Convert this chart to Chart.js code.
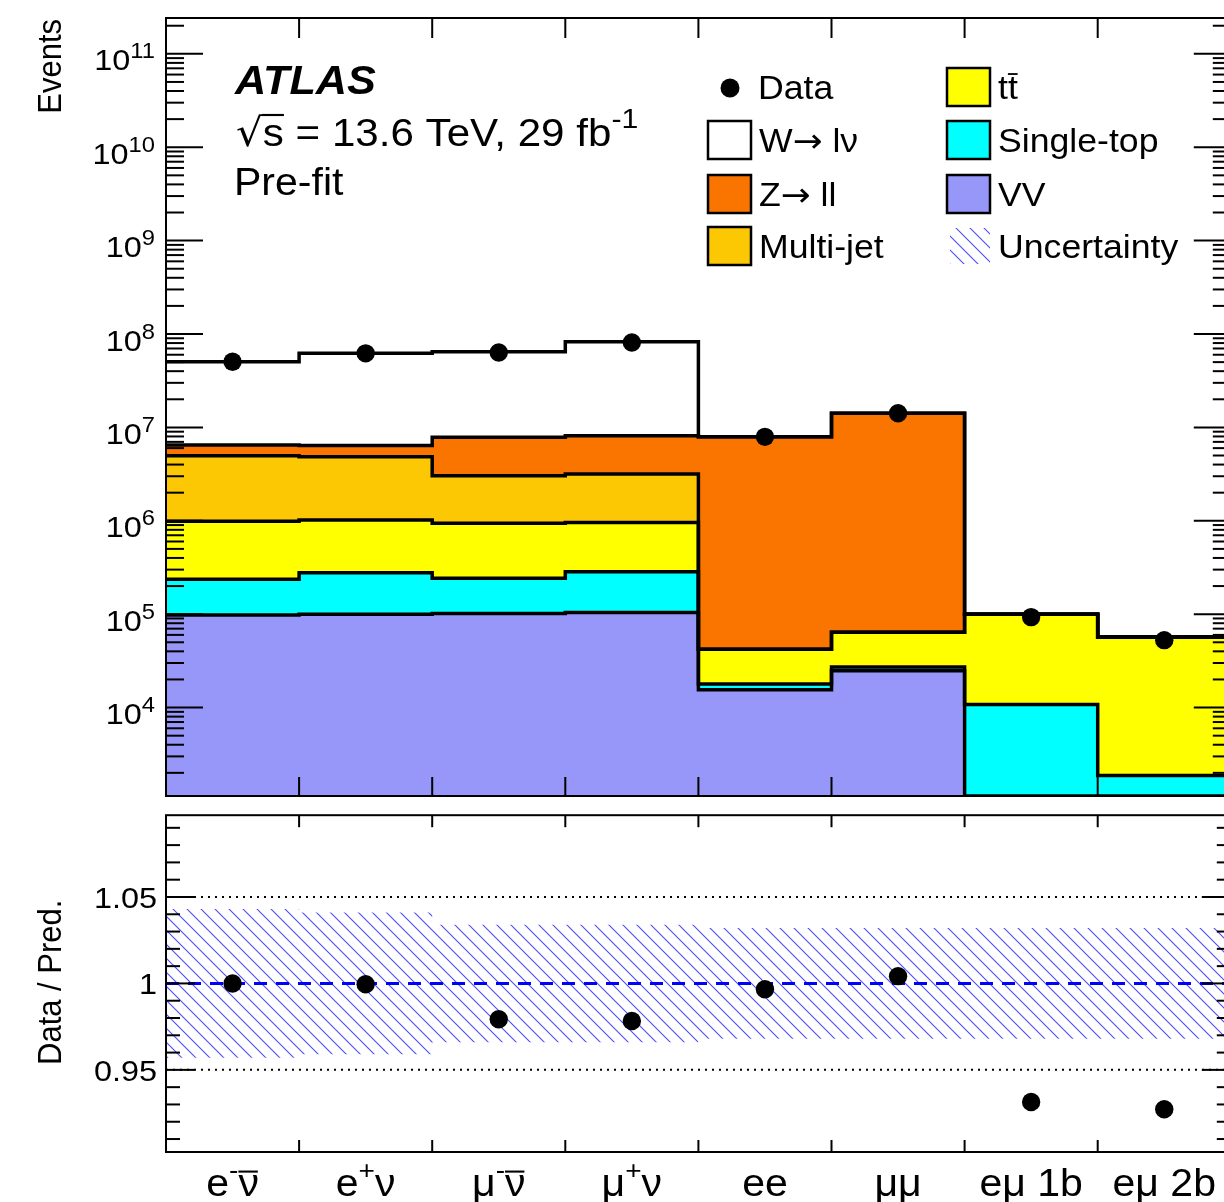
<!DOCTYPE html>
<html>
<head>
<meta charset="utf-8">
<title>ATLAS pre-fit yields</title>
<script src="https://cdn.jsdelivr.net/npm/chart.js@4.4.1/dist/chart.umd.min.js"></script>
<style>
  html, body { margin: 0; padding: 0; background: #fff; }
  body { width: 1224px; height: 1202px; overflow: hidden; position: relative; }
  canvas { position: absolute; left: 0; }
  #mainChart { top: 0; }
  #ratioChart { top: 806px; }
</style>
</head>
<body>
<canvas id="mainChart" width="1240" height="806"></canvas>
<canvas id="ratioChart" width="1240" height="396"></canvas>
<script>
'use strict';

// regions (ROOT-like markup: ^{..} superscript, #bar{..} overline, #rightarrow)
const categories = ['e^{-}#bar{ν}', 'e^{+}ν', 'μ^{-}#bar{ν}', 'μ^{+}ν', 'ee', 'μμ', 'eμ 1b', 'eμ 2b'];

// expected events per sample
const vvYield        = [9.8e4, 1.0e5, 1.02e5, 1.04e5, 1.55e4, 2.48e4, 0, 0];
const singleTopYield = [1.39e5, 1.78e5, 1.40e5, 1.81e5, 2.4e3, 2.4e3, 1.08e4, 1.87e3];
const ttbarYield     = [7.53e5, 7.4e5, 6.98e5, 6.75e5, 2.41e4, 3.68e4, 8.9e4, 5.5e4];
const multijetYield  = [3.99e6, 3.83e6, 2.10e6, 2.21e6, 0, 0, 0, 0];
const zllYield       = [1.50e6, 1.55e6, 4.79e6, 4.98e6, 7.91e6, 1.41e7, 0, 0];
const wlnuYield      = [4.40e7, 5.57e7, 5.68e7, 7.47e7, 0, 0, 0, 0];
const dataEvents     = [5.05e7, 6.21e7, 6.33e7, 8.10e7, 7.92e6, 1.42e7, 9.3e4, 5.27e4];

// lower panel
const dataOverPred   = [1.000, 0.9995, 0.9793, 0.9783, 0.9966, 1.0042, 0.9314, 0.9272];
const relUncertainty = [0.043, 0.041, 0.034, 0.034, 0.032, 0.032, 0.032, 0.032];

// axes
const eventsTickValues = [1e4, 1e5, 1e6, 1e7, 1e8, 1e9, 1e10, 1e11];
const eventsTickLabels = ['10^{4}', '10^{5}', '10^{6}', '10^{7}', '10^{8}', '10^{9}', '10^{10}', '10^{11}'];
const ratioTickValues = [0.95, 1, 1.05];
const ratioTickLabels = ['0.95', '1', '1.05'];

const EVENTS_MIN = 1130;
const EVENTS_MAX = 2.42e11;
const RATIO_MIN = 0.9025;
const RATIO_MAX = 1.0973;

const FONT = '"Liberation Sans", Arial, Helvetica, sans-serif';
const SYMBOL_FONT = '"DejaVu Sans", sans-serif';
const STRETCH = 1.08;
const nBins = categories.length;

const stackSamples = [
    { label: 'VV', values: vvYield, color: '#9797fa' },
    { label: 'Single-top', values: singleTopYield, color: '#00ffff' },
    { label: 't#bar{t}', values: ttbarYield, color: '#ffff00' },
    { label: 'Multi-jet', values: multijetYield, color: '#fcc804' },
    { label: 'Z#rightarrow ll', values: zllYield, color: '#fa7500' },
    { label: 'W#rightarrow lν', values: wlnuYield, color: '#ffffff' }
];

// histogram outline: one point per left bin edge, last value repeated at the right edge
function stepPoints(values, floor) {
    const pts = values.map((v, i) => ({ x: i, y: Math.max(v, floor) }));
    pts.push({ x: values.length, y: pts[pts.length - 1].y });
    return pts;
}

function makeHatch(ctx) {
    const c = document.createElement('canvas');
    c.width = 14;
    c.height = 14;
    const g = c.getContext('2d');
    g.strokeStyle = 'rgba(45,45,245,0.85)';
    g.lineWidth = 1.1;
    g.beginPath();
    g.moveTo(-2, -2); g.lineTo(16, 16);
    g.moveTo(-2, 12); g.lineTo(2, 16);
    g.moveTo(12, -2); g.lineTo(16, 2);
    g.stroke();
    return ctx.createPattern(c, 'repeat');
}

function parseRich(str) {
    const re = /\^\{([^}]*)\}|#bar\{([^}]*)\}|#sqrt\{([^}]*)\}|#rightarrow|([^^#]+)/g;
    const parts = [];
    let m;
    while ((m = re.exec(str)) !== null) {
        if (m[0] === '#rightarrow') parts.push({ text: '→', kind: 'sym' });
        else if (m[1] !== undefined) parts.push({ text: m[1], kind: 'sup' });
        else if (m[2] !== undefined) parts.push({ text: m[2], kind: 'bar' });
        else if (m[3] !== undefined) {
            parts.push({ text: '√', kind: 'root' });
            parts.push({ text: m[3], kind: 'rooted' });
        } else parts.push({ text: m[4], kind: 'plain' });
    }
    return parts;
}

function partFont(p, face) {
    if (p.kind === 'sym' || p.kind === 'root') return `normal normal ${p.size}px ${SYMBOL_FONT}`;
    return `${face} ${p.size}px ${FONT}`;
}

function drawRich(ctx, str, x, y, size, opt) {
    opt = opt || {};
    const face = (opt.style || 'normal') + ' ' + (opt.weight || 'normal');
    const parts = parseRich(str);
    let width = 0;
    parts.forEach(p => {
        p.size = p.kind === 'sup' ? Math.round(size * (opt.supScale || 0.68)) : size;
        ctx.font = partFont(p, face);
        const mt = ctx.measureText(p.text);
        p.w = mt.width;
        p.asc = mt.actualBoundingBoxAscent;
        p.l = mt.actualBoundingBoxLeft;
        p.r = mt.actualBoundingBoxRight;
        width += p.w;
    });
    ctx.save();
    ctx.translate(x, y);
    ctx.scale(STRETCH, 1);
    if (opt.rotate) ctx.rotate(opt.rotate);
    ctx.fillStyle = '#000';
    ctx.strokeStyle = '#000';
    ctx.textAlign = 'left';
    ctx.textBaseline = 'alphabetic';
    let cx = opt.align === 'center' ? -width / 2 : opt.align === 'right' ? -width : 0;
    let rootTop = 0;
    parts.forEach(p => {
        ctx.font = partFont(p, face);
        const dy = p.kind === 'sup' ? -size * (opt.raise || 0.42) : 0;
        ctx.fillText(p.text, cx, dy);
        ctx.lineWidth = Math.max(1.5, size * 0.055);
        if (p.kind === 'bar') {
            const by = -p.asc - size * 0.09;
            ctx.beginPath();
            ctx.moveTo(cx - p.l, by);
            ctx.lineTo(cx + p.r, by);
            ctx.stroke();
        }
        if (p.kind === 'root') rootTop = p.asc;
        if (p.kind === 'rooted') {
            ctx.beginPath();
            ctx.moveTo(cx - 1, -rootTop + 1);
            ctx.lineTo(cx + p.w, -rootTop + 1);
            ctx.stroke();
        }
        cx += p.w;
    });
    ctx.restore();
}

function seg(ctx, x1, y1, x2, y2) {
    ctx.beginPath();
    ctx.moveTo(x1, y1);
    ctx.lineTo(x2, y2);
    ctx.stroke();
}

// ---------- upper panel ----------
const mainCanvas = document.getElementById('mainChart');
const mainHatch = makeHatch(mainCanvas.getContext('2d'));

let cumulative = new Array(nBins).fill(0);
const stackDatasets = stackSamples.map((s, k) => {
    cumulative = cumulative.map((c, i) => c + s.values[i]);
    return {
        label: s.label,
        data: stepPoints(cumulative, EVENTS_MIN),
        stepped: true,
        borderColor: '#000',
        borderWidth: 3.5,
        borderJoinStyle: 'miter',
        backgroundColor: s.color,
        fill: k === 0 ? 'start' : '-1',
        pointRadius: 0,
        order: 1
    };
});

const dataDataset = {
    label: 'Data',
    data: dataEvents.map((v, i) => ({ x: i + 0.5, y: v })),
    showLine: false,
    pointRadius: 9.2,
    pointBackgroundColor: '#000',
    pointBorderWidth: 0,
    order: 0
};

const mainDecor = {
    id: 'mainDecor',
    afterDraw(chart) {
        const ctx = chart.ctx;
        const { left, right, top, bottom } = chart.chartArea;
        const xS = chart.scales.x, yS = chart.scales.y;
        ctx.save();
        ctx.strokeStyle = '#000';
        ctx.lineWidth = 2;
        ctx.strokeRect(left, top, right - left, bottom - top);

        // inward ticks, log axis
        for (let p = 3; p <= 11; p++) {
            for (let m = 1; m <= 9; m++) {
                const v = m * Math.pow(10, p);
                if (v < yS.min || v > yS.max) continue;
                const y = yS.getPixelForValue(v);
                const len = m === 1 ? 37 : 18;
                seg(ctx, left, y, left + len, y);
                seg(ctx, right, y, right - len, y);
            }
        }
        for (let i = 1; i < nBins; i++) {
            const x = xS.getPixelForValue(i);
            seg(ctx, x, top, x, top + 20);
            seg(ctx, x, bottom, x, bottom - 19);
        }
        eventsTickValues.forEach((v, i) => {
            const y = yS.getPixelForValue(v);
            drawRich(ctx, eventsTickLabels[i], 155, y + 16.5, 30, { align: 'right', raise: 0.4, supScale: 0.72 });
        });
        drawRich(ctx, 'Events', 61, 19, 31, { align: 'right', rotate: -Math.PI / 2 });

        // labels
        drawRich(ctx, 'ATLAS', 235, 94, 40, { weight: 'bold', style: 'italic' });
        drawRich(ctx, '#sqrt{s} = 13.6 TeV, 29 fb^{-1}', 236, 146, 39, { raise: 0.45, supScale: 0.72 });
        drawRich(ctx, 'Pre-fit', 234, 195, 38);

        // legend
        const rows = [99, 152, 206, 258];
        const byLabel = {};
        stackSamples.forEach(s => { byLabel[s.label] = s; });
        const box = (x, base, color) => {
            ctx.fillStyle = color;
            ctx.fillRect(x, base - 31, 43, 38);
            ctx.lineWidth = 2.5;
            ctx.strokeStyle = '#000';
            ctx.strokeRect(x, base - 31, 43, 38);
        };
        ctx.fillStyle = '#000';
        ctx.beginPath();
        ctx.arc(730, rows[0] - 11, 9.5, 0, Math.PI * 2);
        ctx.fill();
        drawRich(ctx, 'Data', 758, rows[0], 33);
        ['W#rightarrow lν', 'Z#rightarrow ll', 'Multi-jet'].forEach((lab, i) => {
            box(708, rows[i + 1], byLabel[lab].color);
            drawRich(ctx, lab, 759, rows[i + 1], 33);
        });
        ['t#bar{t}', 'Single-top', 'VV'].forEach((lab, i) => {
            box(947, rows[i], byLabel[lab].color);
            drawRich(ctx, lab, 998, rows[i], 33);
        });
        ctx.fillStyle = mainHatch;
        ctx.fillRect(950, rows[3] - 30, 40, 36);
        drawRich(ctx, 'Uncertainty', 998, rows[3], 33);
        ctx.restore();
    }
};

new Chart(mainCanvas, {
    type: 'line',
    data: { datasets: [...stackDatasets, dataDataset] },
    options: {
        responsive: false,
        animation: false,
        events: [],
        layout: { padding: { left: 166, right: 8, top: 18, bottom: 10 } },
        scales: {
            x: { type: 'linear', min: 0, max: nBins, display: false },
            y: { type: 'logarithmic', min: EVENTS_MIN, max: EVENTS_MAX, display: false }
        },
        plugins: {
            legend: { display: false },
            tooltip: { enabled: false },
            filler: { drawTime: 'beforeDatasetsDraw' }
        }
    },
    plugins: [mainDecor]
});

// ---------- ratio panel ----------
const ratioCanvas = document.getElementById('ratioChart');
const ratioHatch = makeHatch(ratioCanvas.getContext('2d'));

const ratioDecor = {
    id: 'ratioDecor',
    beforeDatasetsDraw(chart) {
        const ctx = chart.ctx;
        const { left, right } = chart.chartArea;
        const yS = chart.scales.y;
        ctx.save();
        ctx.strokeStyle = '#000';
        ctx.lineWidth = 2;
        ctx.setLineDash([2, 5]);
        [0.95, 1.05].forEach(v => {
            const y = yS.getPixelForValue(v);
            seg(ctx, left, y, right, y);
        });
        ctx.restore();
    },
    afterDraw(chart) {
        const ctx = chart.ctx;
        const { left, right, top, bottom } = chart.chartArea;
        const xS = chart.scales.x, yS = chart.scales.y;
        ctx.save();
        ctx.strokeStyle = '#000';
        ctx.lineWidth = 2;
        ctx.strokeRect(left, top, right - left, bottom - top);
        for (let k = 91; k <= 109; k++) {
            const y = yS.getPixelForValue(k / 100);
            const len = k % 5 === 0 ? 29 : 14;
            seg(ctx, left, y, left + len, y);
            seg(ctx, right, y, right - len, y);
        }
        for (let i = 1; i < nBins; i++) {
            const x = xS.getPixelForValue(i);
            seg(ctx, x, top, x, top + 12);
            seg(ctx, x, bottom, x, bottom - 12);
        }
        ratioTickValues.forEach((v, i) => {
            drawRich(ctx, ratioTickLabels[i], 157, yS.getPixelForValue(v) + 11, 30, { align: 'right' });
        });
        categories.forEach((c, i) => {
            drawRich(ctx, c, xS.getPixelForValue(i + 0.5), 390, 38, { align: 'center', raise: 0.45 });
        });
        drawRich(ctx, 'Data / Pred.', 61, 259, 31, { rotate: -Math.PI / 2 });
        ctx.restore();
    }
};

new Chart(ratioCanvas, {
    type: 'line',
    data: {
        datasets: [
            {
                label: 'Uncertainty up',
                data: stepPoints(relUncertainty.map(u => 1 + u), -Infinity),
                stepped: true,
                borderColor: 'rgba(0,0,0,0)',
                borderWidth: 0,
                pointRadius: 0,
                fill: false,
                order: 3
            },
            {
                label: 'Uncertainty',
                data: stepPoints(relUncertainty.map(u => 1 - u), -Infinity),
                stepped: true,
                borderColor: 'rgba(0,0,0,0)',
                borderWidth: 0,
                backgroundColor: ratioHatch,
                pointRadius: 0,
                fill: '-1',
                order: 3
            },
            {
                label: 'Reference',
                data: [{ x: 0, y: 1 }, { x: nBins, y: 1 }],
                borderColor: '#0000ff',
                borderWidth: 3,
                borderDash: [13, 9],
                pointRadius: 0,
                fill: false,
                order: 1
            },
            {
                label: 'Data / Pred.',
                data: dataOverPred.map((v, i) => ({ x: i + 0.5, y: v })),
                showLine: false,
                pointRadius: 9.2,
                pointBackgroundColor: '#000',
                pointBorderWidth: 0,
                order: 0
            }
        ]
    },
    options: {
        responsive: false,
        animation: false,
        events: [],
        layout: { padding: { left: 166, right: 8, top: 7, bottom: 50 } },
        scales: {
            x: { type: 'linear', min: 0, max: nBins, display: false },
            y: { type: 'linear', min: RATIO_MIN, max: RATIO_MAX, display: false }
        },
        plugins: {
            legend: { display: false },
            tooltip: { enabled: false },
            filler: { drawTime: 'beforeDatasetsDraw' }
        }
    },
    plugins: [ratioDecor]
});
</script>
</body>
</html>
